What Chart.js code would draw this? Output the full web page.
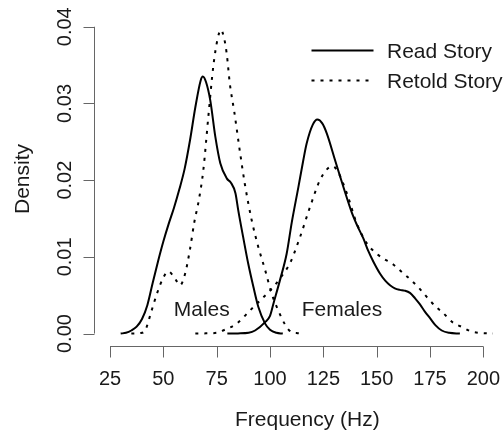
<!DOCTYPE html>
<html>
<head>
<meta charset="utf-8">
<script src="https://cdn.jsdelivr.net/npm/chart.js@4/dist/chart.umd.min.js"></script>
<style>
  html, body { margin: 0; padding: 0; background: #ffffff; }
  #wrap { width: 503px; height: 432px; position: relative; }
</style>
</head>
<body>
<div id="wrap"><canvas id="c" width="503" height="432"></canvas></div>
<script>
// ---- Data ----
const maleReadFreq = [30, 32.5, 35, 37.5, 40, 42.5, 45, 47.5, 50, 52.5, 55, 57.5, 60, 62.5, 65, 67.5, 68.5, 70, 72, 74.4, 76.7, 79.8, 81.6, 83.8, 85.1, 87.4, 89.8, 92.2, 94.5, 97.7, 100, 103, 106];
const maleReadDensity = [0, 0.0001, 0.0004, 0.0009, 0.0019, 0.0037, 0.0066, 0.0094, 0.0120, 0.0143, 0.0164, 0.0188, 0.0215, 0.0252, 0.0295, 0.0330, 0.0335, 0.0328, 0.0304, 0.0256, 0.0222, 0.0202, 0.0197, 0.0183, 0.0161, 0.0126, 0.0091, 0.0061, 0.0035, 0.0013, 0.0005, 0.0001, 0];

const maleRetoldFreq = [35, 40, 41.5, 44.5, 47, 50, 52.3, 55, 57.8, 60.2, 62.5, 64.5, 66.5, 68.7, 71.1, 73.4, 75.5, 77, 78.5, 79.7, 81.2, 83.2, 85.9, 88.2, 91.4, 94.5, 97.7, 100.8, 103.9, 107, 110, 113, 116];
const maleRetoldDensity = [0, 0.0001, 0.0004, 0.0030, 0.0052, 0.0073, 0.0081, 0.0074, 0.0063, 0.0078, 0.0110, 0.0145, 0.0172, 0.0212, 0.0283, 0.0348, 0.0385, 0.0396, 0.0385, 0.0365, 0.0325, 0.0290, 0.0237, 0.0195, 0.0148, 0.0113, 0.0083, 0.0052, 0.0030, 0.0012, 0.0002, 0.00005, 0];

const femaleReadFreq = [80, 85, 90, 93, 97.7, 100, 101.6, 104.7, 107.8, 110.2, 113.3, 115.6, 117.2, 120, 122.2, 124.5, 126.6, 130.5, 134.4, 138.3, 141, 143.75, 146, 148.4, 151.6, 154, 156.25, 158.5, 160.9, 163, 165.6, 168, 170.3, 172.5, 175, 177.5, 180.5, 184, 189];
const femaleReadDensity = [0, 0.00002, 0.0001, 0.0004, 0.0015, 0.0023, 0.0039, 0.0070, 0.0104, 0.0145, 0.0191, 0.0226, 0.0248, 0.0272, 0.0279, 0.0274, 0.0261, 0.0226, 0.0191, 0.0158, 0.0140, 0.0124, 0.0108, 0.0094, 0.0078, 0.0069, 0.0063, 0.0059, 0.0057, 0.0056, 0.0053, 0.0046, 0.0038, 0.0029, 0.0020, 0.0011, 0.0004, 0.0001, 0];

const femaleRetoldFreq = [65, 70, 75, 78, 84.4, 90.6, 95.3, 100, 104.7, 109.4, 114.1, 118.75, 123.4, 127, 129.5, 132, 136, 140.6, 145.3, 150, 153, 157.8, 162.3, 166, 170.3, 174, 178.1, 181.1, 185.9, 190.5, 194, 198, 204.5];
const femaleRetoldDensity = [0, 0.00003, 0.0001, 0.0004, 0.0013, 0.0030, 0.0043, 0.0056, 0.0072, 0.0092, 0.0126, 0.0165, 0.0200, 0.0215, 0.0218, 0.0210, 0.0183, 0.0144, 0.0118, 0.0104, 0.0098, 0.0090, 0.0079, 0.0070, 0.0058, 0.0046, 0.0034, 0.0027, 0.0014, 0.0008, 0.0003, 0.0001, 0];

const xTicks = [25, 50, 75, 100, 125, 150, 175, 200];
const yTicks = [0, 0.01, 0.02, 0.03, 0.04];
const yTickLabels = ["0.00", "0.01", "0.02", "0.03", "0.04"];
const xTitle = "Frequency (Hz)";
const yTitle = "Density";
const legendLabels = ["Read Story", "Retold Story"];
const groupLabels = ["Males", "Females"];
const groupLabelFreq = [68, 133.7];
const groupLabelDensity = [0.00226, 0.00226];

// ---- Build datasets ----
function pts(xs, ys) { return xs.map((x, i) => ({ x: x, y: ys[i] })); }
const DASH = [3, 6];
function ds(xs, ys, dashed) {
  return {
    data: pts(xs, ys),
    showLine: true,
    borderColor: '#000000',
    borderWidth: 2,
    borderDash: dashed ? DASH : [],
    borderCapStyle: 'butt',
    pointRadius: 0,
    cubicInterpolationMode: 'monotone',
    fill: false
  };
}

const FONT = '"Liberation Sans", Arial, Helvetica, sans-serif';
const TEXT = '#1a1a1a';
const AXIS = '#666666';

const rAxes = {
  id: 'rAxes',
  afterDraw(chart) {
    const ctx = chart.ctx;
    const xs = chart.scales.x, ys = chart.scales.y;
    const area = chart.chartArea;
    ctx.save();
    // X axis
    ctx.strokeStyle = AXIS;
    ctx.lineWidth = 1;
    const xb = Math.round(area.bottom) + 0.5;
    ctx.beginPath();
    ctx.moveTo(xs.getPixelForValue(xTicks[0]), xb);
    ctx.lineTo(xs.getPixelForValue(xTicks[xTicks.length - 1]), xb);
    xTicks.forEach(v => {
      const px = Math.round(xs.getPixelForValue(v)) + 0.5;
      ctx.moveTo(px, xb);
      ctx.lineTo(px, xb + 11);
    });
    ctx.stroke();
    ctx.fillStyle = TEXT;
    ctx.font = '20px ' + FONT;
    ctx.textAlign = 'center';
    ctx.textBaseline = 'alphabetic';
    xTicks.forEach(v => {
      ctx.fillText(String(v), xs.getPixelForValue(v), xb + 38.5);
    });
    // Y axis
    const yl = Math.round(area.left) + 0.5;
    ctx.beginPath();
    ctx.moveTo(yl, ys.getPixelForValue(yTicks[0]));
    ctx.lineTo(yl, ys.getPixelForValue(yTicks[yTicks.length - 1]));
    yTicks.forEach(v => {
      const py = Math.round(ys.getPixelForValue(v)) + 0.5;
      ctx.moveTo(yl, py);
      ctx.lineTo(yl - 11, py);
    });
    ctx.stroke();
    yTicks.forEach((v, i) => {
      ctx.save();
      ctx.translate(yl - 24, ys.getPixelForValue(v));
      ctx.rotate(-Math.PI / 2);
      ctx.textAlign = 'center';
      ctx.textBaseline = 'alphabetic';
      ctx.fillText(yTickLabels[i], 0, 0);
      ctx.restore();
    });
    // Axis titles
    ctx.font = '21px ' + FONT;
    ctx.textAlign = 'center';
    ctx.fillText(xTitle, xs.getPixelForValue(117.5), xb + 79);
    ctx.save();
    ctx.translate(yl - 66, (area.top + area.bottom) / 2 - 2);
    ctx.rotate(-Math.PI / 2);
    ctx.fillText(yTitle, 0, 0);
    ctx.restore();
    // Group labels
    groupLabels.forEach((t, i) => {
      ctx.fillText(t, xs.getPixelForValue(groupLabelFreq[i]), ys.getPixelForValue(groupLabelDensity[i]));
    });
    // Legend
    const lx0 = 311.5, lx1 = 373.5, ly0 = 50.5, lgap = 30;
    ctx.strokeStyle = '#000000';
    ctx.lineWidth = 2;
    ctx.lineCap = 'butt';
    legendLabels.forEach((t, i) => {
      const y = ly0 + i * lgap;
      ctx.setLineDash(i === 0 ? [] : DASH);
      ctx.beginPath();
      ctx.moveTo(lx0, y);
      ctx.lineTo(lx1 - (i === 0 ? 0 : 2), y);
      ctx.stroke();
      ctx.setLineDash([]);
      ctx.textAlign = 'left';
      ctx.textBaseline = 'alphabetic';
      ctx.fillText(t, 387, y + 7);
    });
    ctx.restore();
  }
};

new Chart(document.getElementById('c'), {
  type: 'scatter',
  data: {
    datasets: [
      ds(maleReadFreq, maleReadDensity, false),
      ds(maleRetoldFreq, maleRetoldDensity, true),
      ds(femaleReadFreq, femaleReadDensity, false),
      ds(femaleRetoldFreq, femaleRetoldDensity, true)
    ]
  },
  options: {
    responsive: false,
    animation: false,
    devicePixelRatio: 1,
    layout: { padding: { left: 94, right: 3, top: 16, bottom: 86 } },
    plugins: { legend: { display: false }, tooltip: { enabled: false } },
    scales: {
      x: { type: 'linear', min: 17.5, max: 207.8, display: false },
      y: { type: 'linear', min: -0.00162, max: 0.0414, display: false }
    }
  },
  plugins: [rAxes]
});
</script>
</body>
</html>
